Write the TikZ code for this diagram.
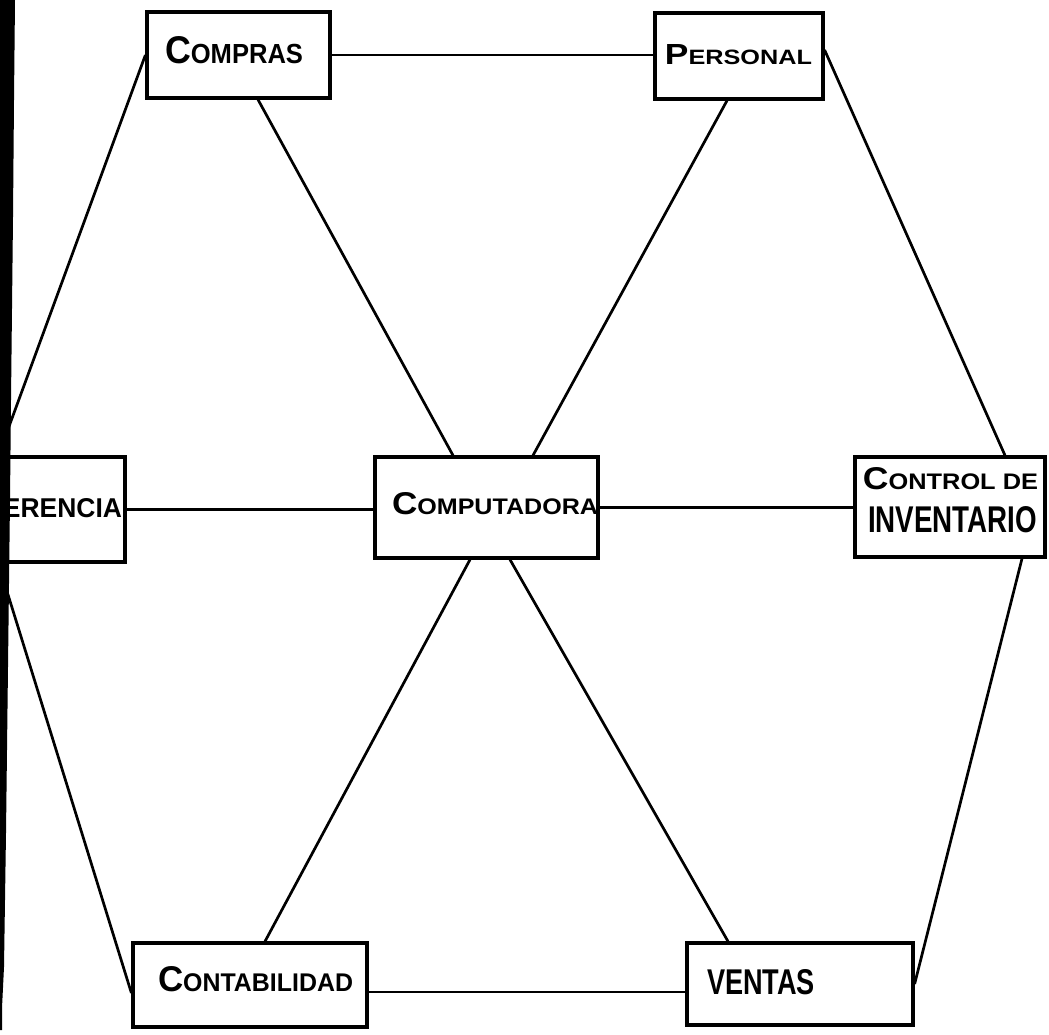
\documentclass[tikz,border=0pt]{standalone}
\usepackage{fontspec}
\setmainfont{Liberation Sans}
\usepackage{graphicx}
% lettering: a larger initial followed by smaller capitals
\newcommand{\initcap}[2]{{\fontsize{14}{14}\selectfont #1}{\fontsize{10}{10}\selectfont #2}}
% stretch a label to a given width and cap height (in pt)
\newcommand{\lettering}[3]{\resizebox{#1pt}{#2pt}{\bfseries #3}}

\begin{document}
\begin{tikzpicture}[x=1pt,y=-1pt,
  box/.style={draw=black, line width=3.2pt, inner sep=0pt},
  lbl/.style={inner sep=0pt, anchor=center},
  link/.style={draw=black, line width=2.7pt}]

\useasboundingbox (0,0) rectangle (1049,1035);
\clip (0,0) rectangle (1049,1035);
\fill[white] (0,0) rectangle (1049,1035);

% department boxes
\node[box, minimum width=183, minimum height=86]  (compras)  at (238.5,55)  {};
\node[box, minimum width=168, minimum height=86]  (personal) at (739,56)    {};
\node[box, minimum width=223, minimum height=101] (comp)     at (486.5,507.5) {};
\node[box, minimum width=125, minimum height=105] (ger)      at (62.5,509.5) {};
\node[box, minimum width=190, minimum height=100] (control)  at (950,507)   {};
\node[box, minimum width=234, minimum height=84]  (conta)    at (250,985)   {};
\node[box, minimum width=226, minimum height=82]  (ventas)   at (800,984)   {};

% labels
\node[lbl] (comprasT)  at (234,50)    {\lettering{138}{27}{\initcap{C}{OMPRAS}}};
\node[lbl] (personalT) at (738.5,55)  {\lettering{147}{20}{\initcap{P}{ERSONAL}}};
\node[lbl] (compT)     at (495,504)   {\lettering{206}{22}{\initcap{C}{OMPUTADORA}}};
\node[lbl] (gerT)      at (62.5,508)  {\lettering{119}{19}{ERENCIA}};
\node[lbl] (controlT)  at (950.5,479) {\lettering{175}{22}{\initcap{C}{ONTROL DE}}};
\node[lbl] (invT)      at (952.5,520) {\lettering{169}{26}{INVENTARIO}};
\node[lbl] (contaT)    at (255.5,979.5) {\lettering{195}{25}{\initcap{C}{ONTABILIDAD}}};
\node[lbl] (ventasT)   at (761,982.5) {\lettering{108}{25}{VENTAS}};

% connectors
\draw[link] (compras.east) -- (compras.east -| personal.west);
\draw[link] ([xshift=19.5pt]compras.south) -- ([xshift=-33.5pt]comp.north);
\draw[link] ([xshift=-12pt]personal.south) -- ([xshift=46.5pt]comp.north);
\draw[link] ([yshift=6pt]personal.east) -- ([xshift=55pt]control.north);
\draw[link] (compras.west) -- (ger.north west);
\draw[link] (ger.east) -- (ger.east -| comp.west);
\draw[link] (comp.east) -- (comp.east -| control.west);
\draw[link] (ger.south west) -- ([yshift=-8pt]conta.west);
\draw[link] ([xshift=-16.5pt]comp.south) -- ([xshift=15pt]conta.north);
\draw[link] ([xshift=23.5pt]comp.south) -- ([xshift=-72pt]ventas.north);
\draw[link] ([yshift=-7pt]conta.east) -- ([yshift=-7pt]conta.east -| ventas.west);
\draw[link] ([xshift=72pt]control.south) -- (ventas.east);

% dark strip along the left margin
\fill[black] (0,0) -- (15,0) -- (14,100) -- (13,217) -- (11,400) -- (10,500)
  -- (8,667) -- (6,833) -- (4,967) -- (2,1008) -- (2,1030) -- (0,1030) -- cycle;
\end{tikzpicture}
\end{document}
